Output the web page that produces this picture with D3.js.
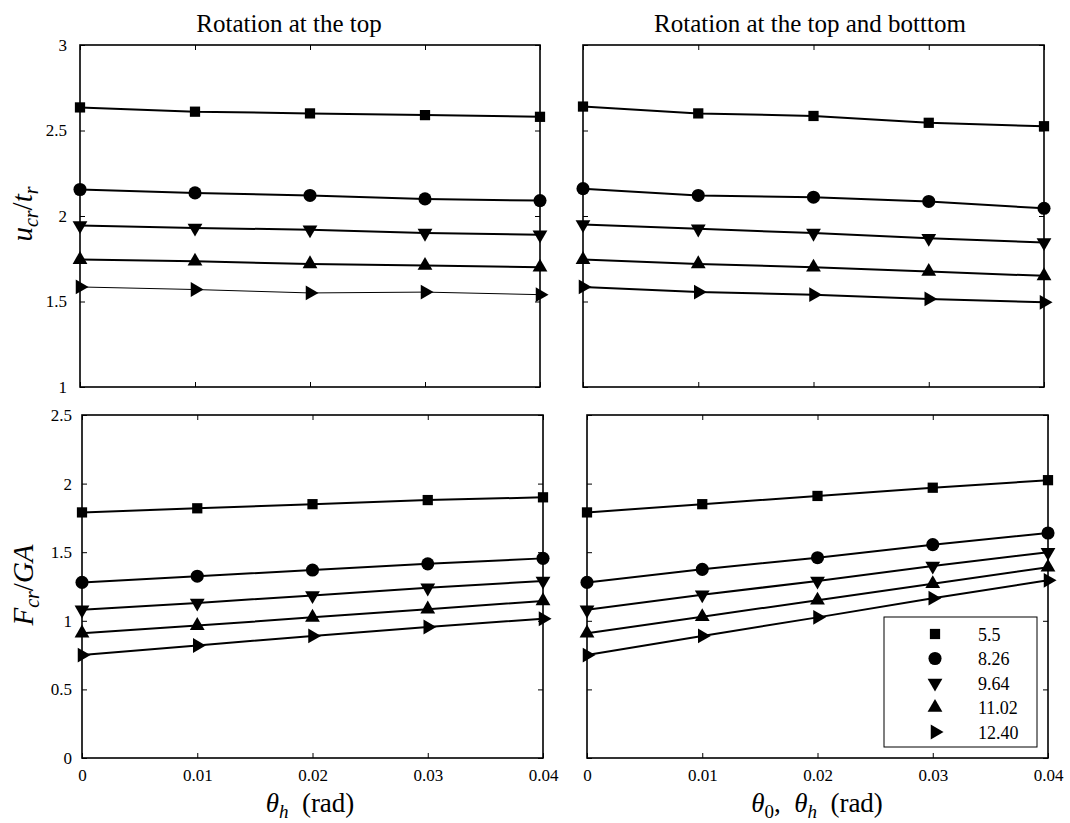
<!DOCTYPE html>
<html>
<head>
<meta charset="utf-8">
<script src="https://cdn.jsdelivr.net/npm/d3@7"></script>
<style>
  body { margin: 0; background: #fff; }
  text { font-family: "Liberation Serif", "Times New Roman", serif; fill: #000; }
</style>
</head>
<body>
<svg id="chart" width="1070" height="823"></svg>
<script>
// data
const xVals = [0, 0.01, 0.02, 0.03, 0.04];
const seriesNames = ["5.5", "8.26", "9.64", "11.02", "12.40"];
const yTicksTop = [1, 1.5, 2, 2.5, 3];
const yTicksBottom = [0, 0.5, 1, 1.5, 2, 2.5];

// u_cr / t_r, rotation at the top
const ucrTop = [
    [2.635, 2.61, 2.60, 2.59, 2.58],
    [2.155, 2.135, 2.12, 2.10, 2.09],
    [1.945, 1.93, 1.92, 1.90, 1.89],
    [1.745, 1.735, 1.72, 1.71, 1.70],
    [1.585, 1.57, 1.55, 1.555, 1.54]
];
// u_cr / t_r, rotation at the top and bottom
const ucrTopBottom = [
    [2.64, 2.60, 2.585, 2.545, 2.525],
    [2.16, 2.12, 2.11, 2.085, 2.045],
    [1.95, 1.925, 1.90, 1.87, 1.845],
    [1.745, 1.72, 1.70, 1.675, 1.65],
    [1.585, 1.555, 1.54, 1.515, 1.495]
];
// F_cr / GA, rotation at the top
const fcrTop = [
    [1.79, 1.82, 1.85, 1.88, 1.90],
    [1.28, 1.325, 1.37, 1.415, 1.455],
    [1.08, 1.13, 1.185, 1.24, 1.29],
    [0.91, 0.965, 1.025, 1.085, 1.145],
    [0.75, 0.82, 0.89, 0.955, 1.015]
];
// F_cr / GA, rotation at the top and bottom
const fcrTopBottom = [
    [1.79, 1.85, 1.91, 1.97, 2.025],
    [1.28, 1.375, 1.46, 1.555, 1.64],
    [1.08, 1.19, 1.29, 1.40, 1.50],
    [0.91, 1.03, 1.15, 1.27, 1.39],
    [0.75, 0.89, 1.025, 1.165, 1.295]
];

// marker shapes: square, circle, down, up, right
const markers = [
    {type: d3.symbolSquare, size: 105, rot: 0},
    {type: d3.symbolCircle, size: 135, rot: 0},
    {type: d3.symbolTriangle, size: 95, rot: 180},
    {type: d3.symbolTriangle, size: 95, rot: 0},
    {type: d3.symbolTriangle, size: 95, rot: 90}
];

const serif = "'Liberation Serif', 'Times New Roman', serif";
const svg = d3.select("#chart");

const panels = [
    {data: ucrTop, x0: 80, x1: 540, y0: 45, y1: 387, dom: [1, 3], ticks: yTicksTop, yLabels: true, xLabels: false, thin: 4, pad: 13},
    {data: ucrTopBottom, x0: 583, x1: 1044, y0: 45, y1: 387, dom: [1, 3], ticks: yTicksTop, yLabels: false, xLabels: false, thin: -1, pad: 13},
    {data: fcrTop, x0: 82, x1: 543, y0: 415, y1: 758, dom: [0, 2.5], ticks: yTicksBottom, yLabels: true, xLabels: true, thin: -1, pad: 10},
    {data: fcrTopBottom, x0: 587, x1: 1048, y0: 415, y1: 758, dom: [0, 2.5], ticks: yTicksBottom, yLabels: false, xLabels: true, thin: -1, pad: 10}
];

function symbolPath(i) {
    return d3.symbol().type(markers[i].type).size(markers[i].size)();
}

panels.forEach(p => {
    const x = d3.scaleLinear().domain([0, 0.04]).range([p.x0, p.x1]);
    const y = d3.scaleLinear().domain(p.dom).range([p.y1, p.y0]);
    const g = svg.append("g");

    // inward ticks on all four sides
    const fmt = d => String(d);
    const axes = [
        {ax: d3.axisBottom(x).tickValues(xVals).tickSize(-5).tickPadding(11).tickFormat(p.xLabels ? fmt : ""), tr: `translate(0,${p.y1})`},
        {ax: d3.axisTop(x).tickValues(xVals).tickSize(-5).tickFormat(""), tr: `translate(0,${p.y0})`},
        {ax: d3.axisLeft(y).tickValues(p.ticks).tickSize(-5).tickPadding(p.pad).tickFormat(p.yLabels ? fmt : ""), tr: `translate(${p.x0},0)`},
        {ax: d3.axisRight(y).tickValues(p.ticks).tickSize(-5).tickFormat(""), tr: `translate(${p.x1},0)`}
    ];
    axes.forEach(a => {
        const ag = g.append("g").attr("transform", a.tr).call(a.ax)
            .attr("font-family", serif).attr("font-size", 17);
        ag.select(".domain").remove();
        ag.selectAll("line").attr("stroke", "#000").attr("stroke-width", 1);
        ag.selectAll("text").style("font-family", serif).style("font-size", "17px").attr("fill", "#000");
    });

    g.append("rect")
        .attr("x", p.x0).attr("y", p.y0)
        .attr("width", p.x1 - p.x0).attr("height", p.y1 - p.y0)
        .attr("fill", "none").attr("stroke", "#000").attr("stroke-width", 1.6);

    const line = d3.line().x((d, i) => x(xVals[i])).y(d => y(d));
    p.data.forEach((s, si) => {
        g.append("path")
            .attr("d", line(s))
            .attr("fill", "none")
            .attr("stroke", "#000")
            .attr("stroke-width", si === p.thin ? 1 : 2);
        g.selectAll(null)
            .data(s)
            .enter().append("path")
            .attr("d", symbolPath(si))
            .attr("transform", (d, i) => `translate(${x(xVals[i])},${y(d)}) rotate(${markers[si].rot})`)
            .attr("fill", "#000");
    });
});

// titles
svg.append("text").attr("x", 289).attr("y", 32).attr("text-anchor", "middle")
    .style("font-size", "25px").text("Rotation at the top");
svg.append("text").attr("x", 810).attr("y", 32).attr("text-anchor", "middle")
    .style("font-size", "25px").text("Rotation at the top and botttom");

// axis labels with math styling
function mathLabel(parent, parts, size) {
    const t = parent.append("text").style("font-size", size + "px").attr("text-anchor", "middle")
        .attr("xml:space", "preserve");
    parts.forEach(pt => {
        const ts = t.append("tspan").text(pt.t);
        if (pt.it) ts.style("font-style", "italic");
        if (pt.sub) ts.attr("baseline-shift", "-30%").style("font-size", Math.round(size * 0.7) + "px");
    });
    return t;
}

mathLabel(svg, [{t: "θ", it: true}, {t: "h", it: true, sub: true}, {t: "  (rad)"}], 27)
    .attr("x", 310).attr("y", 812);
mathLabel(svg, [{t: "θ", it: true}, {t: "0", sub: true}, {t: ",  "}, {t: "θ", it: true}, {t: "h", it: true, sub: true}, {t: "  (rad)"}], 27)
    .attr("x", 817).attr("y", 812);

mathLabel(svg, [{t: "u", it: true}, {t: "cr", it: true, sub: true}, {t: "/"}, {t: "t", it: true}, {t: "r", it: true, sub: true}], 29)
    .attr("transform", "translate(32,214) rotate(-90)");
mathLabel(svg, [{t: "F", it: true}, {t: "cr", it: true, sub: true}, {t: "/"}, {t: "GA", it: true}], 29)
    .attr("transform", "translate(33,585) rotate(-90)");

// legend
const lg = svg.append("g");
lg.append("rect").attr("x", 884).attr("y", 617).attr("width", 153).attr("height", 130)
    .attr("fill", "#fff").attr("stroke", "#000").attr("stroke-width", 1);
seriesNames.forEach((name, i) => {
    const yy = 634 + i * 24.5;
    lg.append("path").attr("d", symbolPath(i))
        .attr("transform", `translate(935,${yy}) rotate(${markers[i].rot})`)
        .attr("fill", "#000");
    lg.append("text").attr("x", 978).attr("y", yy + 6.5).style("font-size", "18px").text(name);
});
</script>
</body>
</html>
